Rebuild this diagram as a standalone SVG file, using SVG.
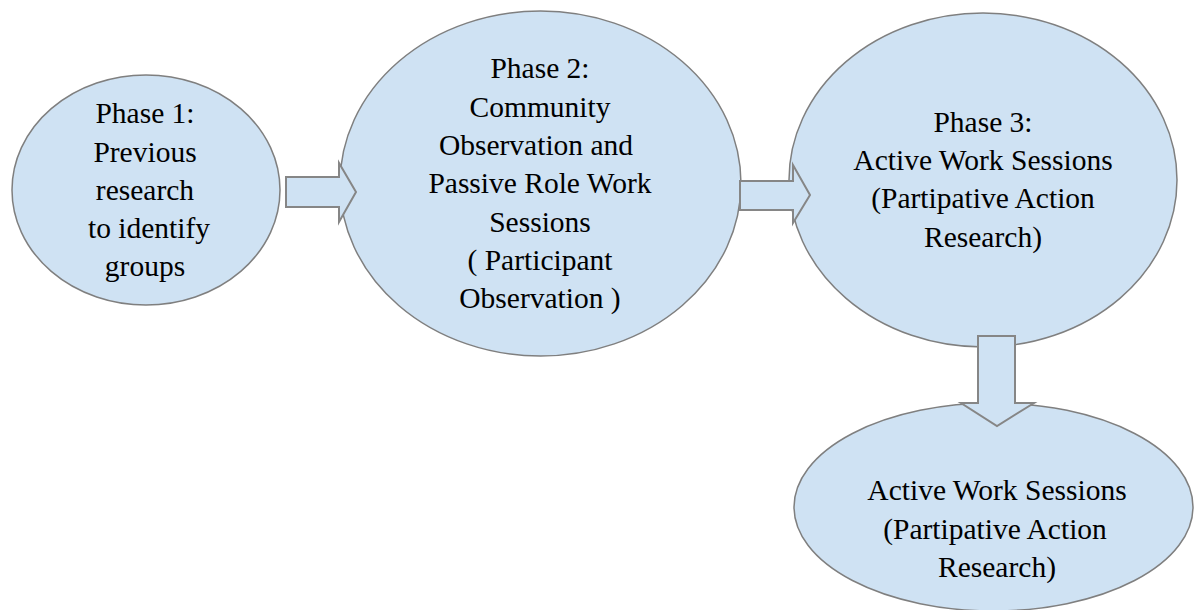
<svg xmlns="http://www.w3.org/2000/svg" width="1194" height="610" viewBox="0 0 1194 610">
  <style>
    .phase { fill: #cfe2f3; stroke: #7f7f7f; stroke-width: 1.5; }
    .flow { fill: #cfe2f3; stroke: #868686; stroke-width: 2; stroke-linejoin: miter; }
    .label { font-family: "Times New Roman", "Liberation Serif", Tinos, "DejaVu Serif", serif; font-size: 29.5px; fill: #000; text-anchor: middle; }
  </style>
  <rect width="1194" height="610" fill="#ffffff"/>

  <g id="phase1">
    <ellipse class="phase" cx="146" cy="190" rx="134" ry="115"/>
    <text class="label" x="145" y="123">Phase 1:</text>
    <text class="label" x="145" y="162">Previous</text>
    <text class="label" x="145" y="200">research</text>
    <text class="label" x="149" y="238">to identify</text>
    <text class="label" x="145" y="276">groups</text>
  </g>

  <g id="phase2">
    <ellipse class="phase" cx="540.5" cy="183.5" rx="200.5" ry="172.5"/>
    <text class="label" x="540" y="78">Phase 2:</text>
    <text class="label" x="540" y="117">Community</text>
    <text class="label" x="536" y="155">Observation and</text>
    <text class="label" x="540" y="193">Passive Role Work</text>
    <text class="label" x="540" y="232">Sessions</text>
    <text class="label" x="540" y="270">( Participant</text>
    <text class="label" x="540" y="308">Observation )</text>
  </g>

  <g id="phase3">
    <ellipse class="phase" cx="983" cy="180" rx="194" ry="167"/>
    <text class="label" x="983" y="132">Phase 3:</text>
    <text class="label" x="983" y="170">Active Work Sessions</text>
    <text class="label" x="983" y="208">(Partipative Action</text>
    <text class="label" x="983" y="247">Research)</text>
  </g>

  <g id="phase4">
    <ellipse class="phase" cx="993.5" cy="507" rx="199.5" ry="104"/>
    <text class="label" x="997" y="500">Active Work Sessions</text>
    <text class="label" x="995" y="539">(Partipative Action</text>
    <text class="label" x="997" y="577">Research)</text>
  </g>

  <!-- block arrows between phases -->
  <g id="connectors">
    <polygon class="flow" points="286,177 339,177 339,163 356,192 339,222 339,207 286,207"/>
    <polygon class="flow" points="740,181 793,181 793,165 810,195 793,223 793,210 740,210"/>
    <polygon class="flow" points="978,336 1015,336 1015,403 1034,403 997,426 961,403 978,403"/>
  </g>
</svg>
